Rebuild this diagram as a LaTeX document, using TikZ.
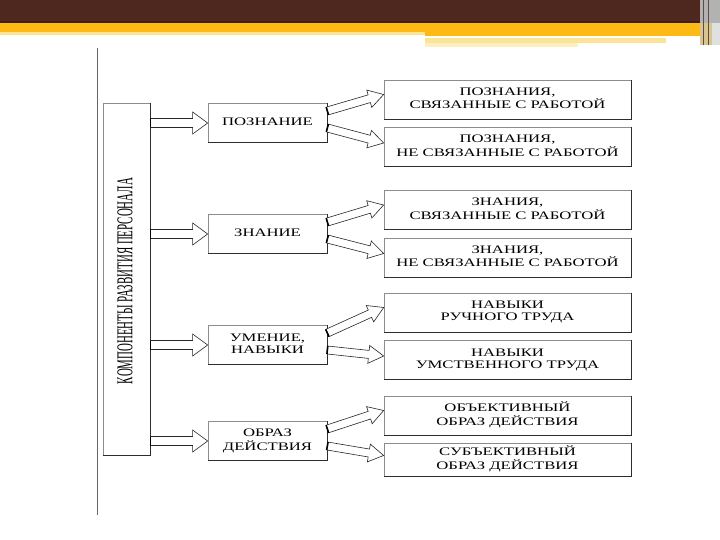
\documentclass[tikz,border=0pt]{standalone}
\usepackage{fontspec}
\setmainfont{Liberation Serif}
\usepackage{graphicx}
\usetikzlibrary{calc}

\definecolor{hdrbrown}{RGB}{78,40,30}
\definecolor{hdrgold}{RGB}{253,186,20}
\definecolor{hdrpale}{RGB}{252,228,150}
\definecolor{boxline}{RGB}{140,140,140}
\definecolor{boxshade}{RGB}{45,45,45}

\newcommand{\wide}[1]{\scalebox{1.45}[1]{\begin{tabular}{@{}c@{}}#1\end{tabular}}}
% hollow block arrow from #1 to #2, shaft half width #3, head half width #4
\newcommand{\fatarrow}[4]{%
  \coordinate (fa) at ($(#2)!15pt!(#1)$);
  \draw[hollow] ($(#1)!#3!90:(#2)$) -- ($(fa)!#3!90:(#2)$) -- ($(fa)!#4!90:(#2)$) -- (#2)
    -- ($(fa)!#4!-90:(#2)$) -- ($(fa)!#3!-90:(#2)$) -- ($(#1)!#3!-90:(#2)$) -- cycle;
  \draw[fattail] ($(#1)!#3!90:(#2)$) -- ($(#1)!#3!-90:(#2)$);}

\tikzset{
  box/.style={draw=boxline, line width=0.7pt, fill=white, minimum height=39pt, inner sep=0pt,
    font=\fontsize{11.5}{12}\selectfont},
  midbox/.style={box, minimum width=119pt},
  rightbox/.style={box, minimum width=247pt},
  hollow/.style={draw=black!85, line width=0.6pt, fill=white},
  fattail/.style={line width=1.6pt},
  shade/.style={draw=boxshade, line width=1.2pt},
}

\begin{document}
\begin{tikzpicture}[x=1pt,y=-1pt]
  \useasboundingbox (0,0) rectangle (720,540);
  % header stripes
  \fill[hdrbrown] (0,0) rectangle (720,21);
  \fill[hdrbrown!80!black] (0,21) rectangle (720,23);
  \fill[hdrgold] (0,23) rectangle (720,32);
  \fill[hdrpale] (0,32) rectangle (425,35);
  \fill[hdrgold] (425,32) rectangle (700,36);
  \fill[hdrpale] (425,38) rectangle (666,43);
  \fill[hdrpale!60] (425,43) rectangle (578,47);
  \fill[black!30] (700,0) rectangle (720,23);
  \fill[hdrpale!70!gray] (700,23) rectangle (712,45);
  \fill[black!12] (712,23) rectangle (720,45);
  \draw[hdrbrown!60!gray, line width=1pt] (703,0) -- (703,45) (708,0) -- (708,45);
  \draw[gray!80!black, line width=0.8pt] (97,48) -- (97,515);

  % left block
  \node[box, minimum width=47pt, minimum height=352pt] (big) at (126.5,279) {};
  \node[rotate=90] (bigtext) at (125,281) {\resizebox{206pt}{15pt}{КОМПОНЕНТЫ РАЗВИТИЯ ПЕРСОНАЛА}};

  % middle column
  \node[midbox] (m1) at (267.5,123) {\wide{ПОЗНАНИЕ}};
  \node[midbox] (m2) at (267.5,234) {\wide{ЗНАНИЕ}};
  \node[midbox] (m3) at (267.5,345) {\wide{УМЕНИЕ,\\НАВЫКИ}};
  \node[midbox] (m4) at (267.5,441) {\wide{ОБРАЗ\\ДЕЙСТВИЯ}};

  % right column
  \node[rightbox] (r1) at (507.5,99.5) {\wide{ПОЗНАНИЯ,\\СВЯЗАННЫЕ С РАБОТОЙ}};
  \node[rightbox] (r2) at (507.5,147) {\wide{ПОЗНАНИЯ,\\НЕ СВЯЗАННЫЕ С РАБОТОЙ}};
  \node[rightbox] (r3) at (507.5,210) {\wide{ЗНАНИЯ,\\СВЯЗАННЫЕ С РАБОТОЙ}};
  \node[rightbox] (r4) at (507.5,257.5) {\wide{ЗНАНИЯ,\\НЕ СВЯЗАННЫЕ С РАБОТОЙ}};
  \node[rightbox] (r5) at (507.5,312.5) {\wide{НАВЫКИ\\РУЧНОГО ТРУДА}};
  \node[rightbox] (r6) at (507.5,360) {\wide{НАВЫКИ\\УМСТВЕННОГО ТРУДА}};
  \node[rightbox] (r7) at (507.5,415.5) {\wide{ОБЪЕКТИВНЫЙ\\ОБРАЗ ДЕЙСТВИЯ}};
  \node[rightbox, minimum height=33pt] (r8) at (507.5,459.5) {\wide{СУБЪЕКТИВНЫЙ\\ОБРАЗ ДЕЙСТВИЯ}};

  \foreach \n in {big,m1,m2,m3,m4,r1,r2,r3,r4,r5,r6,r7,r8}
    \draw[shade] (\n.north east) -- (\n.south east) -- (\n.south west);

  % arrows
  \foreach \i in {1,...,4}{
    \coordinate (h\i) at (big.east |- m\i.west);
    \fatarrow{h\i}{m\i.west}{4.5pt}{11pt}
  }
  \foreach \i/\u/\l in {1/1/2,2/3/4,3/5/6,4/7/8}{
    \coordinate (su) at ($(m\i.east)+(0,-12)$);
    \coordinate (tu) at ($(r\u.west)+(0,-5)$);
    \coordinate (sl) at ($(m\i.east)+(0,5)$);
    \coordinate (tl) at ($(r\l.west)+(0,-4)$);
    \fatarrow{su}{tu}{4pt}{9pt}
    \fatarrow{sl}{tl}{4pt}{9pt}
  }
\end{tikzpicture}
\end{document}
